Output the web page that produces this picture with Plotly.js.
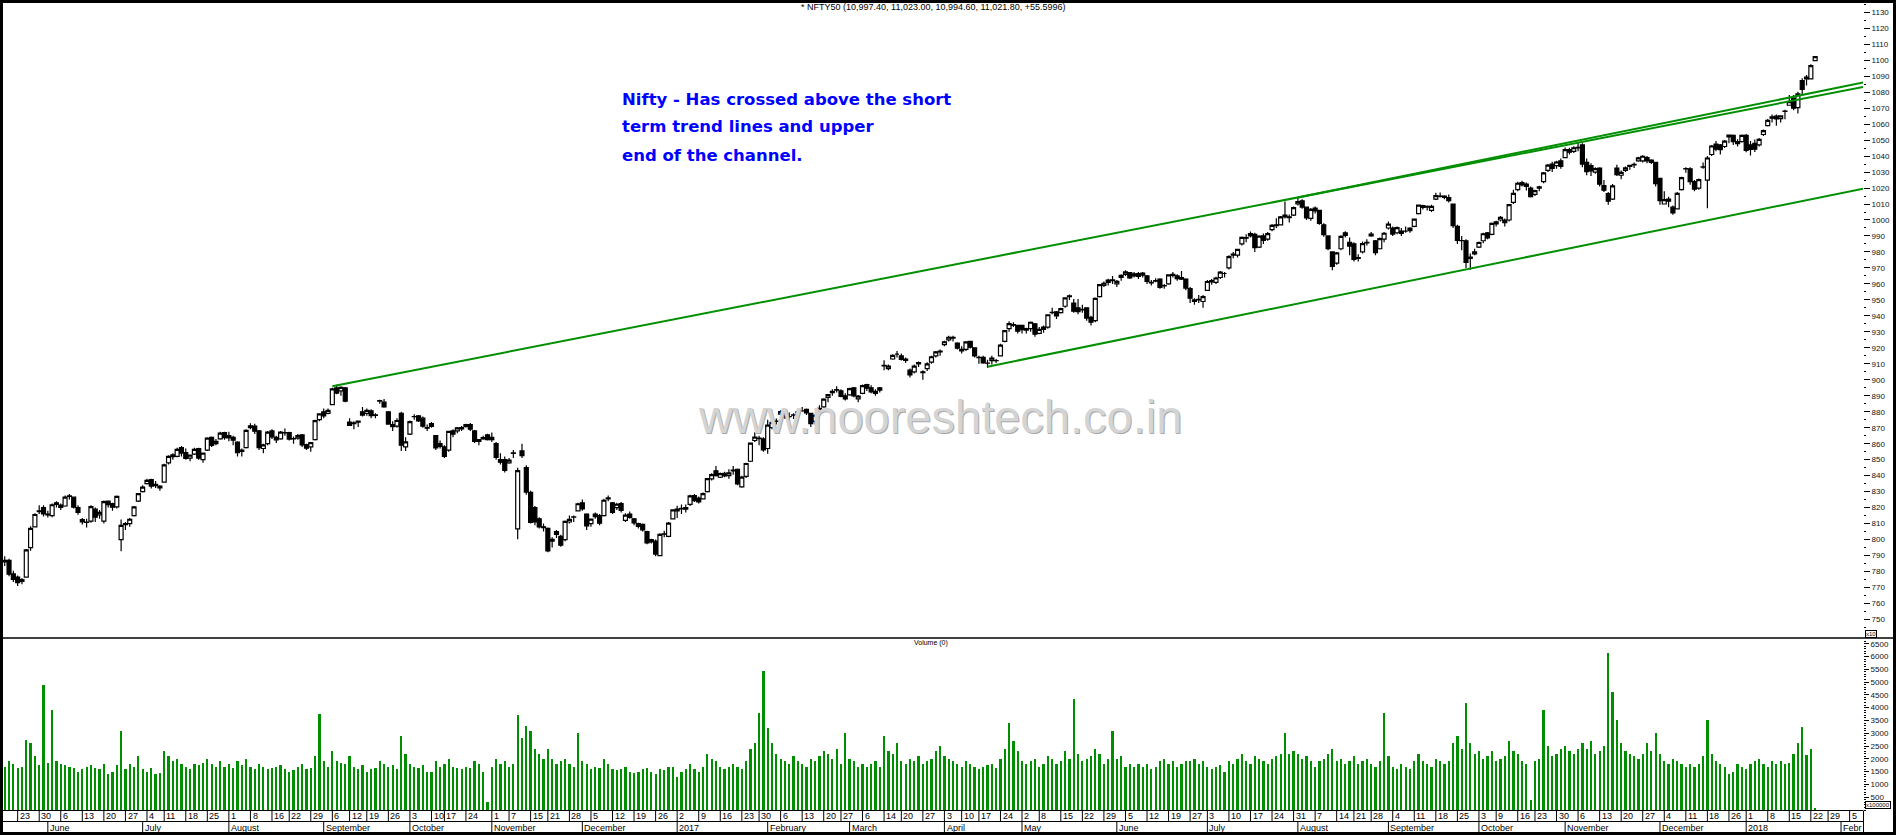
<!DOCTYPE html>
<html><head><meta charset="utf-8">
<script src="https://cdn.plot.ly/plotly-3.0.1.min.js"></script>
<style>html,body{margin:0;padding:0;background:#fff;overflow:hidden}#chart{width:1896px;height:835px}</style>
</head><body><div id="chart"></div>
<script>
// ================= DATA =================
const HOLIDAYS = ['2016-07-06','2016-08-15','2016-09-05','2016-09-13','2016-10-11','2016-10-12','2016-10-31','2016-11-14',
 '2017-01-26','2017-02-24','2017-03-13','2017-04-04','2017-04-14','2017-05-01','2017-06-26','2017-08-15','2017-08-25',
 '2017-10-02','2017-10-20','2017-12-25','2018-01-26'];
const SPECIAL_SESSIONS = ['2016-10-30'];
const CALENDAR_START = '2016-05-16';
const DATA_START = '2016-05-18';
const CALENDAR_END = '2018-02-09';

const open = [
 7860,7870,7785,7765,7738,7765,7950,8080,8175,8200,
 8155,8150,8230,8215,8210,8270,8265,8200,8125,8110,8115,8190,8155,8115,8240,8225,8205,8000,8100,8100,8150,8240,
 8300,8350,8375,8345,8335,8360,8480,8530,8520,8575,8545,8510,8535,8570,8500,8560,8640,8600,8630,8670,
 8650,8640,8610,8560,8575,8700,8710,8680,8570,8600,8680,8640,8630,8670,8670,8630,8635,8655,8595,8580,8625,8750,
 8800,8790,8845,8950,8930,8950,8735,8730,8735,8800,8790,8805,8780,8870,8860,8800,8720,8710,8790,8580,
 8660,8770,8775,8760,8700,8725,8650,8600,8580,8560,8680,8680,8700,8720,8720,8680,8625,8630,8655,
 8640,8600,8500,8500,8480,8540,8067,8555,8450,8295,8200,8130,8080,8070,7990,8050,8020,8000,8110,8140,8180,
 8230,8160,8100,8160,8150,8150,8255,8230,8200,8225,8120,8160,8130,8100,8095,8050,8000,7990,7900,8035,8020,8130,
 8190,8195,8200,8220,8275,8260,8255,8300,8380,8430,8390,8415,8400,8430,8440,8330,8395,8490,8620,8635,8630,
 8570,8700,8740,8785,8800,8770,8780,8800,8805,8815,8790,8740,8800,8830,8890,8920,8935,8930,8900,
 8905,8950,8880,8915,8970,8950,8915,8950,9090,9070,9130,9160,9150,9130,9060,9050,9100,9050,9070,9110,9150,9180,
 9220,9250,9265,9230,9190,9190,9240,9200,9140,9140,9105,9120,9120,9150,9240,9320,9345,9340,
 9340,9320,9320,9350,9290,9330,9330,9420,9425,9420,9460,9520,9480,9450,9440,9450,9390,9370,9520,9590,9610,9625,
 9600,9640,9660,9670,9650,9665,9655,9650,9610,9620,9630,9590,9600,9660,9650,9640,9630,9570,9500,9500,9490,
 9560,9620,9610,9640,9665,9700,9780,9780,9850,9890,9900,9910,9830,9900,9880,9940,9970,9970,10030,10020,10030,
 10100,10120,10080,10010,10075,10060,9970,9900,9800,9730,9820,9920,9860,9850,9760,9800,9860,9900,9870,9820,9880,
 9950,9950,9920,9930,9930,9950,9960,10040,10090,10080,10060,10130,10150,10150,10140,10100,9960,9870,9870,9760,9800,
 9830,9870,9920,9910,9975,10000,10000,10000,10110,10190,10220,10225,10200,10160,10200,10240,10310,10350,10340,10370,
 10390,10440,10430,10455,10470,10360,10340,10300,10325,10215,10165,10130,10325,10280,10310,10335,10345,10370,10370,10390,10375,10360,
 10260,10100,10130,10080,10070,10190,10320,10320,10240,10200,10330,10250,10410,10475,10470,10460,10520,10530,10490,10490,
 10530,10470,10480,10470,10535,10590,10645,10650,10635,10680,10718,10761,10703,10873,10883,10883,10997
];
const high = [
 7895,7880,7805,7775,7760,7941,8083,8165,8214,8214,
 8180,8225,8240,8225,8275,8285,8270,8215,8135,8130,8215,8200,8185,8245,8245,8230,8275,8125,8110,8135,8210,8290,
 8340,8380,8380,8367,8340,8475,8527,8540,8575,8585,8570,8530,8575,8575,8545,8640,8645,8630,8675,8675,
 8675,8650,8615,8570,8690,8728,8725,8685,8600,8680,8690,8650,8680,8695,8675,8645,8660,8660,8600,8610,8750,8790,
 8820,8820,8950,8969,8960,8955,8760,8740,8745,8830,8820,8815,8790,8875,8880,8805,8740,8760,8800,8640,
 8745,8785,8780,8770,8720,8735,8655,8620,8590,8680,8690,8705,8710,8725,8730,8685,8630,8650,8662,
 8670,8610,8540,8520,8510,8560,8450,8600,8465,8305,8210,8140,8100,8075,8015,8060,8030,8120,8150,8150,8230,
 8250,8165,8130,8170,8160,8255,8275,8235,8230,8235,8165,8175,8135,8105,8100,8055,8005,8000,8040,8055,8110,8190,
 8212,8220,8220,8280,8285,8270,8295,8385,8415,8460,8420,8425,8440,8460,8445,8400,8480,8605,8672,8650,8640,
 8750,8760,8757,8810,8810,8795,8790,8810,8830,8820,8790,8785,8840,8885,8910,8940,8960,8940,8915,
 8950,8955,8905,8970,8975,8965,8940,8955,9122,9095,9160,9180,9165,9140,9070,9095,9115,9060,9110,9150,9180,9190,
 9245,9275,9275,9235,9210,9240,9245,9200,9150,9150,9125,9150,9130,9225,9310,9367,9360,9345,
 9340,9325,9365,9355,9330,9340,9410,9450,9430,9450,9517,9533,9505,9505,9470,9450,9400,9515,9600,9615,9632,9650,
 9625,9660,9685,9675,9675,9675,9675,9655,9625,9635,9635,9600,9660,9675,9660,9680,9635,9580,9510,9530,9530,
 9625,9630,9645,9680,9675,9780,9800,9820,9897,9910,9928,9920,9905,9915,9925,9975,10011,10025,10115,10035,10085,
 10137,10130,10085,10075,10085,10060,9980,9905,9800,9800,9905,9930,9890,9860,9785,9865,9880,9925,9875,9890,9925,
 9990,9960,9960,9950,9960,9955,10010,10095,10095,10090,10095,10170,10172,10155,10160,10100,9970,9900,9880,9790,9820,
 9865,9920,9925,9985,9995,10025,10010,10100,10190,10240,10245,10235,10210,10190,10215,10300,10350,10365,10370,10385,
 10453,10452,10461,10490,10480,10385,10355,10330,10330,10250,10175,10225,10345,10310,10335,10345,10360,10395,10405,10400,10380,10365,
 10265,10180,10145,10090,10175,10270,10330,10330,10250,10260,10360,10400,10470,10495,10475,10500,10535,10535,10505,10535,
 10538,10495,10503,10513,10566,10632,10660,10660,10655,10690,10783,10782,10803,10887,10907,10975,11023
];
const low = [
 7835,7770,7735,7710,7720,7762,7930,8075,8160,8145,
 8138,8140,8200,8185,8205,8250,8195,8155,8095,8075,8105,8110,8130,8100,8200,8180,8195,7927,8060,8080,8145,8235,
 8295,8345,8320,8322,8305,8355,8470,8500,8515,8520,8500,8490,8530,8500,8480,8555,8580,8590,8625,8625,
 8615,8590,8520,8520,8570,8690,8660,8560,8540,8590,8630,8605,8625,8650,8620,8600,8625,8580,8560,8550,8620,8740,
 8760,8785,8840,8910,8900,8860,8710,8690,8705,8770,8775,8760,8760,8850,8825,8720,8680,8700,8555,8555,
 8655,8750,8735,8700,8680,8700,8560,8570,8510,8550,8640,8665,8680,8700,8680,8605,8590,8625,8620,
 8610,8500,8470,8420,8475,8510,8002,8510,8280,8100,8090,8070,8050,7920,7950,8010,7955,7990,8100,8110,8175,
 8180,8060,8080,8130,8090,8145,8240,8160,8185,8170,8110,8130,8090,8070,8050,7970,7975,7895,7895,8015,8015,8125,
 8135,8160,8170,8210,8235,8225,8250,8295,8370,8395,8385,8390,8380,8405,8340,8325,8385,8485,8610,8590,8550,
 8537,8690,8720,8770,8755,8740,8755,8770,8800,8780,8705,8720,8795,8825,8860,8900,8920,8890,8870,
 8900,8890,8860,8910,8930,8915,8900,8920,9060,9060,9125,9140,9120,9105,9015,9040,9080,9000,9055,9100,9140,9150,
 9210,9240,9240,9190,9165,9180,9195,9140,9100,9100,9075,9095,9105,9145,9235,9300,9330,9290,
 9290,9290,9300,9270,9285,9295,9320,9410,9380,9415,9450,9500,9420,9410,9420,9370,9340,9360,9515,9580,9590,9600,
 9580,9620,9650,9630,9640,9630,9640,9600,9590,9610,9570,9570,9595,9640,9620,9625,9560,9480,9470,9480,9450,
 9555,9595,9600,9630,9640,9690,9760,9765,9840,9860,9890,9800,9825,9850,9870,9930,9950,9965,10010,9985,10025,
 10090,10070,10000,9995,10040,9970,9895,9810,9685,9720,9810,9890,9780,9740,9740,9790,9840,9895,9780,9815,9860,
 9940,9900,9910,9900,9920,9920,9955,10035,10065,10060,10050,10125,10140,10130,10110,9950,9850,9810,9700,9688,9780,
 9825,9855,9880,9905,9960,9990,9960,9990,10100,10180,10210,10185,10140,10150,10180,10230,10300,10300,10320,10320,
 10386,10410,10420,10430,10330,10280,10275,10290,10210,10175,10095,10125,10275,10255,10300,10315,10325,10365,10360,10355,10350,10210,
 10095,10100,10080,10033,10065,10185,10295,10220,10180,10190,10320,10074,10400,10430,10410,10450,10480,10470,10460,10485,
 10424,10404,10425,10460,10525,10585,10610,10590,10610,10630,10715,10687,10666,10782,10842,10881,10995
];
const close = [
 7870,7783,7750,7731,7749,7935,8070,8157,8179,8160,
 8160,8218,8220,8201,8266,8273,8203,8170,8110,8108,8206,8140,8170,8238,8219,8203,8270,8089,8094,8127,8204,8287,
 8328,8371,8335,8337,8323,8467,8521,8519,8565,8541,8508,8528,8565,8510,8541,8635,8590,8615,8666,8638,
 8636,8622,8544,8551,8683,8711,8678,8575,8592,8672,8642,8624,8673,8667,8629,8632,8650,8592,8572,8607,8744,8786,
 8774,8809,8943,8917,8952,8866,8715,8726,8742,8779,8808,8775,8777,8867,8831,8723,8706,8745,8591,8611,
 8738,8769,8743,8709,8697,8708,8573,8583,8520,8677,8659,8699,8693,8708,8691,8615,8615,8638,8625,
 8626,8514,8484,8433,8497,8543,8432,8525,8297,8108,8111,8079,8074,7929,8002,8033,7965,8114,8126,8142,8224,
 8192,8086,8128,8143,8102,8246,8261,8170,8221,8182,8153,8139,8104,8082,8061,7979,7986,7909,8032,8034,8103,8186,
 8180,8192,8190,8274,8244,8236,8288,8381,8407,8400,8413,8398,8417,8435,8349,8391,8476,8603,8641,8632,8561,
 8716,8734,8741,8801,8768,8769,8778,8793,8805,8792,8725,8778,8821,8879,8907,8927,8939,8896,8880,
 8945,8899,8898,8963,8947,8924,8927,8935,9087,9085,9153,9160,9127,9121,9030,9086,9108,9045,9100,9144,9174,9174,
 9238,9266,9261,9198,9181,9237,9204,9150,9139,9105,9104,9136,9119,9217,9307,9352,9342,9304,
 9313,9311,9360,9285,9315,9316,9407,9422,9400,9445,9512,9526,9429,9427,9438,9386,9360,9509,9595,9604,9624,9621,
 9616,9653,9675,9637,9663,9647,9668,9616,9606,9618,9578,9588,9657,9653,9633,9630,9574,9511,9491,9504,9520,
 9615,9613,9637,9674,9665,9771,9786,9816,9891,9886,9915,9827,9899,9873,9915,9966,9964,10020,10020,10014,10077,
 10115,10081,10013,10066,10057,9978,9908,9820,9710,9794,9897,9904,9837,9754,9765,9852,9857,9912,9796,9884,9917,
 9974,9912,9952,9916,9930,9934,10006,10093,10079,10086,10085,10153,10147,10141,10121,9964,9872,9871,9735,9768,9788,
 9859,9914,9888,9979,9988,10016,9984,10096,10167,10230,10234,10210,10146,10184,10207,10295,10343,10323,10363,10335,
 10440,10424,10452,10451,10350,10303,10308,10321,10224,10186,10118,10214,10283,10298,10326,10342,10348,10389,10399,10370,10361,10227,
 10121,10127,10118,10044,10166,10265,10322,10240,10193,10252,10333,10388,10463,10444,10440,10493,10531,10490,10477,10530,
 10435,10442,10443,10504,10559,10623,10637,10632,10651,10681,10741,10700,10789,10817,10895,10966,11022
];
// volume in units of 100,000 shares (axis "x100000")
const volume = [
 1700,1900,1800,1650,1700,2750,2600,2100,1750,4900,
 1850,3900,1900,1800,1750,1700,1650,1500,1600,1700,1750,1650,1600,1800,1400,1500,1750,3100,1600,1800,1700,2100,
 1600,1500,1650,1400,1450,2300,2100,1900,2000,1800,1700,1600,1800,1750,1850,2000,1800,1700,1900,1700,
 1800,1650,1900,1750,2000,1700,1600,1800,1700,1600,1650,1700,1750,1600,1500,1550,1700,1800,1600,1650,2100,3750,
 1900,1700,2300,1900,1850,1800,2100,1700,1600,1750,1500,1600,1650,1900,1800,1700,1750,1600,2900,2200,
 1800,1700,1650,1750,1500,1500,1900,1700,1800,2000,1700,1650,1600,1700,1650,1900,1800,1500,300,
 1700,2000,1800,1900,1700,1800,3700,2800,3300,3100,2400,2200,2000,2400,2000,1800,1900,2000,1800,1700,3000,
 1900,1800,1600,1700,1650,2000,1800,1600,1550,1600,1700,1500,1450,1500,1600,1650,1500,1400,1600,1550,1700,1700,
 1300,1500,1600,1800,1600,1500,1700,2200,2000,1900,1700,1600,1700,1800,1700,1600,1900,2400,2600,3800,5450,
 3200,2600,2200,2000,1900,1800,2100,1900,1800,1700,2000,1900,2100,2300,2200,2000,2400,1800,3000,
 2000,1900,1700,1800,1700,1800,1900,1700,2900,2300,2200,2600,1900,1800,2000,1900,2100,1800,1900,2000,2300,2500,
 2100,2000,1900,1800,1700,1900,1800,1700,1600,1700,1750,1800,1650,2000,2400,3400,2700,2300,
 1900,1800,1900,2000,1700,1800,2100,2000,1800,1900,2300,2000,4350,2200,1900,2000,2100,2400,2200,1800,2000,3100,
 2000,2100,1700,1800,1700,1800,1700,1800,1600,1700,1900,2000,1800,1900,1700,1800,1900,1900,2000,1800,1900,
 1700,1600,1700,1750,1500,1900,1800,2000,2200,1900,1800,2100,2000,1900,1800,2000,2100,2200,3000,2200,2300,
 2200,2000,2100,1900,1700,1900,2000,2200,2400,1900,2000,1800,1900,2100,1800,1900,2000,1800,1700,1900,3800,
 2100,1700,1600,1800,1700,1600,1900,2200,1900,1800,1700,2000,1900,1800,1900,2600,2900,2400,4200,2600,2200,
 2300,2000,2100,2300,1900,2000,2100,2700,2300,2200,1900,1800,400,1900,2000,3900,2500,2100,2200,2400,
 2500,2300,2200,2400,2600,2400,2700,2200,2300,2500,6150,4600,3500,2600,2300,2200,2100,2000,2200,2600,2300,3000,
 2200,1900,1800,2000,1900,1800,1700,1800,1700,1800,2100,3500,2200,1900,1800,1700,1400,1500,1800,1700,
 1600,1800,1900,2000,1800,1700,1900,1800,1900,1790,1830,2190,2610,3230,2140,2380,80
];

const PRICE_TICKS = [7500,7600,7700,7800,7900,8000,8100,8200,8300,8400,8500,8600,8700,8800,8900,9000,9100,9200,9300,9400,
 9500,9600,9700,9800,9900,10000,10100,10200,10300,10400,10500,10600,10700,10800,10900,11000,11100,11200,11300];
const PRICE_TICK_TEXT = ['750','760','770','780','790','800','810','820','830','840','850','860','870','880','890','900','910','920','930','940',
 '950','960','970','980','990','1000','1010','1020','1030','1040','1050','1060','1070','1080','1090','1100','1110','1120','1130'];
const VOLUME_TICKS = [500,1000,1500,2000,2500,3000,3500,4000,4500,5000,5500,6000,6500];
const VOLUME_TICK_TEXT = ['500','1000','1500','2000','2500','3000','3500','4000','4500','5000','5500','6000','6500'];
const MONTH_NAMES = ['January','February','March','April','May','June','July','August','September','October','November','December'];

// analyst trend lines: two anchor points each (date, price), extended to the right edge
const TREND_LINES = [
 {d0:'2016-09-06', p0:8960, d1:'2018-01-23', p1:10774},
 {d0:'2017-08-01', p0:10141, d1:'2018-01-23', p1:10799},
 {d0:'2017-04-19', p0:9082, d1:'2018-01-23', p1:10135}
];
const TITLE_TEXT = '* NFTY50 (10,997.40, 11,023.00, 10,994.60, 11,021.80, +55.5996)';
const NOTE_LINES = ['Nifty - Has crossed above the short','term trend lines and upper','end of the channel.'];
const WATERMARK = 'www.nooreshtech.co.in';
const VOLUME_TITLE = 'Volume (0)';

// ================= LAYOUT GEOMETRY =================
const W = 1896, H = 835, PL = 3, PR = 1863, PT = 3, PB = 810;
const px = X => (X - PL) / (PR - PL);
const py = Y => (PB - Y) / (PB - PT);
const X_MIN = -0.4, X_MAX = 431.1;
const PX_PER_BAR = (PR - PL) / (X_MAX - X_MIN);
const FONT = 'Liberation Sans, Arial, sans-serif';
const GREEN = '#008f00';

// trading calendar
const cal = [];
for (let t = Date.parse(CALENDAR_START + 'T00:00:00Z'); t <= Date.parse(CALENDAR_END + 'T00:00:00Z'); t += 86400000) {
  const dt = new Date(t), s = dt.toISOString().slice(0, 10), dow = dt.getUTCDay();
  if ((dow > 0 && dow < 6 && !HOLIDAYS.includes(s)) || SPECIAL_SESSIONS.includes(s)) cal.push(s);
}
const k0 = cal.indexOf(DATA_START);
const barIndex = s => cal.indexOf(s) - k0;
const N = Math.min(open.length, high.length, low.length, close.length, volume.length);
const xs = Array.from({length: N}, (_, i) => i);

const traces = [];
traces.push({
  type: 'candlestick', x: xs, open: open.slice(0, N), high: high.slice(0, N), low: low.slice(0, N), close: close.slice(0, N),
  xaxis: 'x', yaxis: 'y', whiskerwidth: 0,
  increasing: {line: {color: '#000', width: 1.2}, fillcolor: '#ffffff'},
  decreasing: {line: {color: '#000', width: 1.2}, fillcolor: '#000000'},
  hoverinfo: 'skip'
});
TREND_LINES.forEach(l => {
  const a = barIndex(l.d0), b = barIndex(l.d1);
  const slope = (l.p1 - l.p0) / (b - a);
  const xe = X_MAX + 1;
  traces.push({type: 'scatter', mode: 'lines', x: [a, xe], y: [l.p0, l.p0 + slope * (xe - a)],
    xaxis: 'x', yaxis: 'y', line: {color: GREEN, width: 2}, hoverinfo: 'skip'});
});
traces.push({type: 'bar', x: xs, y: volume.slice(0, N), xaxis: 'x', yaxis: 'y2', width: 0.52,
  marker: {color: GREEN, line: {width: 0}}, hoverinfo: 'skip'});

const shapes = [], annotations = [];
// date rows
const ROW_TOP = 810.5, ROW_MID = 821.5, ROW_BOT = 833;
const mondayKey = s => { const d = new Date(s + 'T00:00:00Z'); const back = (d.getUTCDay() + 6) % 7;
  return new Date(d.getTime() - back * 86400000).toISOString().slice(0, 10); };
const fitText = (txt, xStart) => { const avail = (X_MAX - xStart) * PX_PER_BAR; const n = Math.floor(avail / 5.0);
  return n >= txt.length ? txt : txt.slice(0, Math.max(n, 0)); };
cal.forEach((s, k) => {
  const xi = k - k0;
  if (k === 0 || mondayKey(s) !== mondayKey(cal[k - 1])) {
    shapes.push({type: 'line', xref: 'x', yref: 'paper', x0: xi, x1: xi, y0: py(ROW_TOP), y1: py(ROW_MID), line: {color: '#000', width: 1}});
    annotations.push({xref: 'x', yref: 'paper', x: xi + 0.25, y: py(816.3), xanchor: 'left', yanchor: 'middle', showarrow: false,
      text: String(+s.slice(8)), font: {family: FONT, size: 9, color: '#000'}, borderpad: 0});
  }
  if (k > 0 && s.slice(0, 7) !== cal[k - 1].slice(0, 7)) {
    const m = +s.slice(5, 7);
    shapes.push({type: 'line', xref: 'x', yref: 'paper', x0: xi, x1: xi, y0: py(ROW_MID), y1: py(ROW_BOT), line: {color: '#000', width: 1}});
    const label = m === 1 ? s.slice(0, 4) : MONTH_NAMES[m - 1];
    annotations.push({xref: 'x', yref: 'paper', x: xi + 0.25, y: py(827.5), xanchor: 'left', yanchor: 'middle', showarrow: false,
      text: fitText(label, xi + 0.25), font: {family: FONT, size: 9, color: '#000'}, borderpad: 0});
  }
});
const hline = (Y, x0, x1, w) => shapes.push({type: 'line', xref: 'paper', yref: 'paper', x0: px(x0), x1: px(x1), y0: py(Y), y1: py(Y), line: {color: '#000', width: w}});
const vline = (X, y0, y1, w) => shapes.push({type: 'line', xref: 'paper', yref: 'paper', x0: px(X), x1: px(X), y0: py(y0), y1: py(y1), line: {color: '#000', width: w}});
hline(638, 0, W, 1.5);
hline(ROW_TOP, 0, PR, 1);
hline(ROW_MID, 0, PR, 1);
vline(PR + 0.5, ROW_TOP, ROW_BOT, 1);
// outer frame
shapes.push({type: 'rect', xref: 'paper', yref: 'paper', x0: px(1.5), x1: px(W - 1.5), y0: py(1.5), y1: py(H - 1.5), line: {color: '#000', width: 3}});

// texts
annotations.push({xref: 'paper', yref: 'paper', x: px(933), y: py(7), xanchor: 'center', yanchor: 'middle', showarrow: false,
  text: TITLE_TEXT, font: {family: FONT, size: 9, color: '#000'}});
annotations.push({xref: 'paper', yref: 'paper', x: px(931), y: py(643), xanchor: 'center', yanchor: 'middle', showarrow: false,
  text: VOLUME_TITLE, font: {family: FONT, size: 7, color: '#000'}});
annotations.push({xref: 'paper', yref: 'paper', x: px(941), y: py(417), xanchor: 'center', yanchor: 'middle', showarrow: false,
  text: WATERMARK, font: {family: FONT, size: 47, color: '#a8a8a8'}});
annotations.push({xref: 'paper', yref: 'paper', x: px(940), y: py(416), xanchor: 'center', yanchor: 'middle', showarrow: false,
  text: WATERMARK, font: {family: FONT, size: 47, color: '#d4d4d4'}});
NOTE_LINES.forEach((t, i) => annotations.push({xref: 'paper', yref: 'paper', x: px(620), y: py(99 + 28 * i), xanchor: 'left', yanchor: 'middle',
  showarrow: false, text: '<b>' + t + '</b>', font: {family: 'DejaVu Sans, Verdana, sans-serif', size: 16.5, color: '#0000ff'}}));
annotations.push({xref: 'paper', yref: 'paper', x: px(1865), y: py(634), xanchor: 'left', yanchor: 'middle', showarrow: false,
  text: 'x10', font: {family: FONT, size: 6, color: '#000'}, bordercolor: '#000', borderwidth: 1, borderpad: 0});
annotations.push({xref: 'paper', yref: 'paper', x: px(1865), y: py(805), xanchor: 'left', yanchor: 'middle', showarrow: false,
  text: 'x100000', font: {family: FONT, size: 6, color: '#000'}, bordercolor: '#000', borderwidth: 1, borderpad: 0});
if (N !== open.length || N !== volume.length || N !== close.length) {
  annotations.push({xref:'paper',yref:'paper',x:0.5,y:0.5,text:'LENGTH MISMATCH '+[open.length,high.length,low.length,close.length,volume.length].join(','),showarrow:false,font:{size:30,color:'red'}});
}

const axFont = {family: FONT, size: 8, color: '#111'};
const layout = {
  width: W, height: H, margin: {l: PL, r: W - PR, t: PT, b: H - PB, pad: 0},
  paper_bgcolor: '#ffffff', plot_bgcolor: '#ffffff', showlegend: false,
  boxgap: 0.08, boxgroupgap: 0, bargap: 0,
  xaxis: {type: 'linear', range: [X_MIN, X_MAX], anchor: 'y2', showgrid: false, zeroline: false, showticklabels: false,
    ticks: '', showline: false, rangeslider: {visible: false}, fixedrange: true},
  yaxis: {domain: [py(638) + 0.001, 1], side: 'right', range: [7389, 11358], showgrid: false, zeroline: false, showline: false,
    tickmode: 'array', tickvals: PRICE_TICKS, ticktext: PRICE_TICK_TEXT, ticks: 'outside', ticklen: 6, tickwidth: 1, tickcolor: '#000',
    tickfont: axFont, minor: {ticks: 'outside', ticklen: 2, tickwidth: 1, tickcolor: '#000', tick0: 7450, dtick: 100}, fixedrange: true},
  yaxis2: {domain: [0, py(640)], side: 'right', range: [0, 6645], showgrid: false, zeroline: false, showline: false,
    tickmode: 'array', tickvals: VOLUME_TICKS, ticktext: VOLUME_TICK_TEXT, ticks: 'outside', ticklen: 5, tickwidth: 1, tickcolor: '#000',
    tickfont: axFont, minor: {ticks: 'outside', ticklen: 2, tickwidth: 1, tickcolor: '#000', tick0: 0, dtick: 100}, fixedrange: true},
  shapes: shapes, annotations: annotations
};
Plotly.newPlot('chart', traces, layout, {staticPlot: true, displayModeBar: false});
</script></body></html>
